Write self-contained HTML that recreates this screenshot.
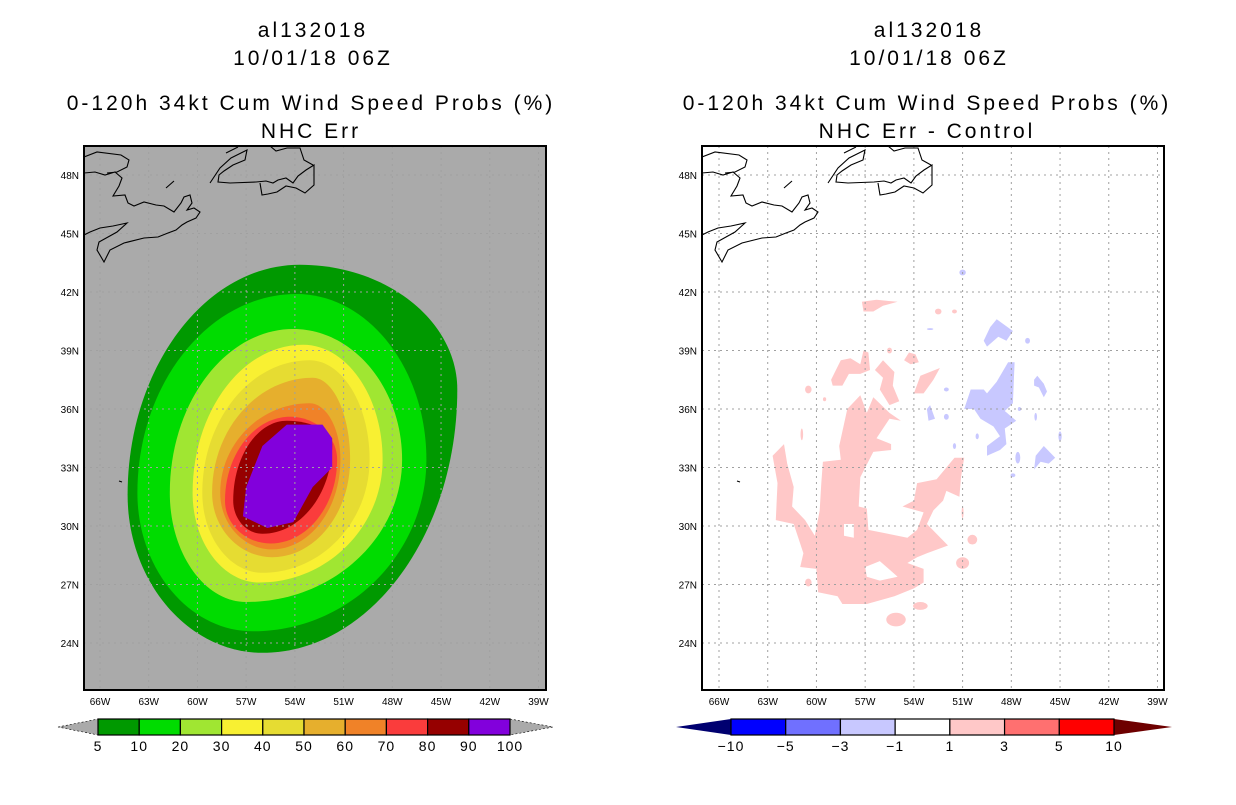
<!DOCTYPE html>
<html><head><meta charset="utf-8"><style>
html,body{margin:0;padding:0;background:#fff;}
svg text{font-family:"Liberation Sans",sans-serif;}
</style></head><body>
<svg id="root" width="1236" height="800" viewBox="0 0 1236 800" xmlns="http://www.w3.org/2000/svg">
<rect width="1236" height="800" fill="#fff"/>
<g font-size="21" text-anchor="middle" fill="#000" letter-spacing="3">
<text x="313" y="37">al132018</text>
<text x="313" y="65">10/01/18 06Z</text>
<text x="311" y="110">0-120h 34kt Cum Wind Speed Probs (%)</text>
<text x="311" y="138">NHC Err</text>
</g>
<g font-size="21" text-anchor="middle" fill="#000" letter-spacing="3">
<text x="929" y="37">al132018</text>
<text x="929" y="65">10/01/18 06Z</text>
<text x="927" y="110">0-120h 34kt Cum Wind Speed Probs (%)</text>
<text x="927" y="138">NHC Err - Control</text>
</g>
<g id="left"></g>
<g id="right"></g>
<g id="cbars"></g>
</svg>
<script>
// ---- data ----
const latTicks = [48,45,42,39,36,33,30,27,24];
const lonTicks = [66,63,60,57,54,51,48,45,42,39];
// probability contours (left): extreme points of each filled level
const probLevels = [5,10,20,30,40,50,60,70,80];
const probColors = ["#009900","#00dc00","#a0e632","#f8f032","#e6dc32","#e6af2d","#f08228","#fa3c3c","#960000"];
const northLon = [53.7,53.9,54.1,53.5,53.1,52.9,53.1,54.3,54.5];
const northLat = [43.4,41.9,40.1,39.3,38.5,37.6,36.3,35.6,35.4];
const eastLon  = [44.0,45.9,47.4,48.6,49.4,50.6,51.2,51.4,51.7];
const eastLat  = [37.0,33.4,33.4,33.4,33.4,33.4,33.4,33.4,34.2];
const southLon = [56.0,56.6,57.0,56.2,56.0,55.4,55.4,55.5,56.0];
const southLat = [23.5,24.6,26.1,27.1,27.6,28.4,28.8,29.1,29.6];
const westLon  = [64.3,63.7,61.7,60.3,59.7,59.1,58.6,58.3,57.8];
const westLat  = [31.6,31.7,31.7,31.7,31.7,31.7,31.7,31.3,31.3];
const core90 = [[54.5,35.2],[52.3,35.2],[51.7,34.5],[51.7,33.0],[52.9,32.0],[54.1,30.2],[55.7,29.9],[57.2,30.5],[57.0,32.0],[56.0,34.1]];
// difference field (right)
const pinkPolys = [
 [[62.0,34.2],[61.8,33.2],[61.4,32.0],[61.5,31.0],[60.7,30.3],[60.1,29.5],[59.8,30.8],[59.7,32.2],[59.6,33.3],[58.5,33.4],[58.6,34.1],[58.1,36.0],[57.3,36.7],[56.9,35.8],[56.5,36.6],[55.5,35.8],[54.8,35.4],[55.5,35.5],[56.3,34.5],[55.4,34.2],[55.4,33.9],[56.5,33.8],[57.3,32.5],[57.4,31.0],[56.9,30.9],[56.8,29.8],[55.6,29.6],[54.4,29.4],[53.8,29.8],[53.4,30.7],[54.7,31.0],[54.0,31.3],[53.8,32.2],[52.6,32.4],[51.5,33.5],[50.9,33.5],[51.1,32.5],[51.2,31.5],[52.0,31.8],[52.2,31.3],[52.8,30.8],[53.2,30.1],[51.9,29.0],[53.2,28.6],[53.8,28.4],[54.4,28.1],[53.4,27.8],[53.4,27.1],[54.0,26.8],[55.2,26.4],[56.9,26.0],[58.4,26.0],[58.7,26.4],[59.9,26.6],[60.0,27.8],[61.0,27.9],[60.8,28.6],[61.4,30.1],[62.5,30.3],[62.4,32.2],[62.7,33.6]],
 [[59.1,37.5],[58.5,38.5],[57.9,38.6],[57.3,38.3],[57.1,39.0],[56.8,38.9],[56.7,38.0],[57.3,37.8],[58.0,37.8],[58.4,37.2],[59.0,37.2]],
 [[56.4,38.0],[55.9,38.5],[55.2,37.9],[55.3,37.2],[54.9,36.4],[55.5,36.2],[56.1,37.0],[55.9,37.6]],
 [[57.2,41.5],[56.3,41.6],[55.0,41.5],[55.9,41.3],[56.5,41.0],[57.1,41.0]],
 [[54.6,38.5],[54.3,38.9],[53.9,38.8],[53.7,38.4],[54.2,38.3]],
 [[54.0,36.8],[53.6,37.7],[52.4,38.1],[52.8,37.5],[53.4,36.8]]
];
const holePolys = [
 [[58.3,30.1],[57.7,30.1],[57.7,29.4],[58.3,29.5]],
 [[57.0,27.9],[56.1,28.2],[55.0,27.4],[56.1,27.2],[56.9,27.4]]
];
const pinkDots = [[50.4,29.3,0.3,0.25],[51.0,28.1,0.4,0.3],[53.6,25.9,0.45,0.2],[55.1,25.2,0.6,0.35],[60.5,37.0,0.2,0.2],[60.9,34.7,0.08,0.3],[60.5,27.1,0.2,0.2],[52.5,41.0,0.2,0.15],[55.5,39.0,0.15,0.15],[51.5,41.0,0.15,0.1],[59.5,36.5,0.1,0.1],[51.0,30.7,0.06,0.3]];
const bluePolys = [
 [[49.7,39.5],[49.3,40.2],[48.9,40.6],[47.9,40.0],[48.3,39.5],[48.8,39.7],[49.5,39.2]],
 [[50.9,36.0],[50.5,37.0],[49.7,37.0],[49.5,36.8],[48.9,37.4],[48.2,38.4],[47.8,38.4],[47.9,36.3],[48.4,35.9],[47.7,35.4],[48.4,35.0],[48.3,34.2],[48.7,33.9],[49.5,33.6],[49.5,34.1],[48.7,34.6],[49.1,35.1],[49.9,35.5],[50.3,36.0]],
 [[46.6,37.5],[46.4,37.7],[46.0,37.3],[45.8,36.9],[46.0,36.6],[46.3,37.1],[46.6,37.2]],
 [[46.6,32.9],[46.5,33.6],[46.0,34.1],[45.3,33.5],[45.7,33.2],[46.2,33.3]],
 [[53.2,36.0],[53.0,36.2],[52.7,35.5],[53.1,35.4]]
];
const blueDots = [[47.6,33.5,0.15,0.3],[50.1,34.6,0.1,0.15],[47.0,39.5,0.15,0.15],[45.0,34.6,0.1,0.25],[52.0,35.6,0.15,0.15],[51.5,34.1,0.1,0.15],[52.0,37.0,0.15,0.1],[53.0,40.1,0.2,0.05],[47.9,32.6,0.15,0.1],[46.5,35.6,0.08,0.2],[47.5,36.0,0.1,0.1],[51.0,43.0,0.2,0.15]];
const probBarLabels = ["5","10","20","30","40","50","60","70","80","90","100"];
const probBarColors = ["#009900","#00dc00","#a0e632","#f8f032","#e6dc32","#e6af2d","#f08228","#fa3c3c","#960000","#8200dc"];
const diffBarLabels = ["-10","-5","-3","-1","1","3","5","10"];
const diffBarColors = ["#0000ff","#7070ff","#c8c8ff","#ffffff","#ffc8c8","#ff7070","#ff0000"];

// coastline (pixel offsets from the panel frame's top-left; decorative)
const coast = [
 "M0 27 L11 26 L21 29 L31 26 L38 32 L35 40 L29 50 L41 49 L44 57 L50 60 L60 56 L72 59 L80 60 L90 66 L97 57 L100 51 L106 49 L108 57 L103 64 L110 62 L116 66 L112 72 L103 76 L98 79 L92 84 L84 87 L74 91 L60 92 L40 97 L26 104 L20 116 L13 104 L15 96 L33 86 L43 77 L29 80 L16 82 L6 86 L0 89",
 "M0 11 L13 6 L37 9 L45 14 L43 21 L33 26 L23 27",
 "M82 42 L90 35",
 "M126 37 L136 22 L147 12 L163 4 L161 14 L149 19 L140 25 L135 29 L134 36 L146 37 L172 36 L182 35 L189 37 L194 34 L202 32 L209 37 L214 30 L222 24 L230 19 L230 39 L221 47 L212 42 L202 40 L193 46 L184 48 L178 49 L176 37",
 "M186 0 L192 5 L203 2 L216 2 L220 14 L229 19",
 "M142 7 L154 1",
 "M35 335 L38 336"
];

const NS="http://www.w3.org/2000/svg";
function mk(tag, attrs, parent){const e=document.createElementNS(NS,tag);for(const k in attrs)e.setAttribute(k,attrs[k]);parent.appendChild(e);return e;}

const FY=146, FW=462, FH=544;
function makeProj(x0){return {x:lon=>x0+(66-lon)*16.24, y:lat=>175+(48-lat)*19.5};}
function polyPath(P, pts){return "M"+pts.map(p=>P.x(p[0]).toFixed(1)+" "+P.y(p[1]).toFixed(1)).join(" L")+" Z";}

function drawFrame(g, fx, P, bg, side){
  const clipId="clip-"+side;
  const cp=mk("clipPath",{id:clipId},g);
  mk("rect",{x:fx,y:FY,width:FW,height:FH},cp);
  const bgr=mk("rect",{x:fx,y:FY,width:FW,height:FH,fill:bg},g);
  
  
  const inner=mk("g",{"clip-path":"url(#"+clipId+")"},g);
  return inner;
}
function drawGridAndAxes(g, inner, fx, P, side){
  const grid=mk("g",{stroke:"#a0a0a0","stroke-width":1,"stroke-dasharray":"2,4"},inner);
  
  
  latTicks.forEach(v=>{mk("line",{x1:fx,x2:fx+FW,y1:P.y(v),y2:P.y(v)},grid);});
  lonTicks.forEach(v=>{mk("line",{x1:P.x(v),x2:P.x(v),y1:FY,y2:FY+FH},grid);});
  const c=mk("path",{d:coast.join(" "),fill:"none",stroke:"#000","stroke-width":1.1,transform:"translate("+fx+","+FY+")"},inner);
  
  
  const fr=mk("rect",{x:fx,y:FY,width:FW,height:FH,fill:"none",stroke:"#000","stroke-width":2},g);
  
  
  latTicks.forEach(v=>{
    const t=mk("text",{x:fx-5,y:P.y(v)+4,"font-size":10,"text-anchor":"end"},g);
    t.textContent=v+"N";
    
    
  });
  lonTicks.forEach(v=>{
    const t=mk("text",{x:P.x(v),y:705,"font-size":10,"text-anchor":"middle"},g);
    t.textContent=v+"W";
    
    
  });
}
function eggPath(P,i){
  const T=[P.x(northLon[i]),P.y(northLat[i])], R=[P.x(eastLon[i]),P.y(eastLat[i])],
        B=[P.x(southLon[i]),P.y(southLat[i])], L=[P.x(westLon[i]),P.y(westLat[i])], k=0.55;
  const f=n=>n.toFixed(1);
  return "M"+f(T[0])+" "+f(T[1])+
   " C"+f(T[0]+k*(R[0]-T[0]))+" "+f(T[1])+" "+f(R[0])+" "+f(R[1]-k*(R[1]-T[1]))+" "+f(R[0])+" "+f(R[1])+
   " C"+f(R[0])+" "+f(R[1]+k*(B[1]-R[1]))+" "+f(B[0]+k*(R[0]-B[0]))+" "+f(B[1])+" "+f(B[0])+" "+f(B[1])+
   " C"+f(B[0]-k*(B[0]-L[0]))+" "+f(B[1])+" "+f(L[0])+" "+f(L[1]+k*(B[1]-L[1]))+" "+f(L[0])+" "+f(L[1])+
   " C"+f(L[0])+" "+f(L[1]-k*(L[1]-T[1]))+" "+f(T[0]-k*(T[0]-L[0]))+" "+f(T[1])+" "+f(T[0])+" "+f(T[1])+" Z";
}
function ellipse(parent,P,d,fill){
  return mk("ellipse",{cx:P.x(d[0]),cy:P.y(d[1]),rx:d[2]*16.24,ry:d[3]*19.5,fill:fill},parent);
}

// left panel
(function(){
  const g=document.getElementById("left"), fx=84, P=makeProj(100);
  const inner=drawFrame(g,fx,P,"#aaaaaa","left");
  const cg=mk("g",{},inner);
  
  
  probLevels.forEach((lv,i)=>{
    const p=mk("path",{d:eggPath(P,i),fill:probColors[i]},cg);
    
    
  });
  const core=mk("path",{d:polyPath(P,core90),fill:"#8200dc"},cg);
  
  
  drawGridAndAxes(g,inner,fx,P,"left");
})();

// right panel
(function(){
  const g=document.getElementById("right"), fx=702, P=makeProj(719);
  const inner=drawFrame(g,fx,P,"#ffffff","right");
  const dg=mk("g",{},inner);
  
  
  pinkPolys.forEach(pts=>{
    const p=mk("path",{d:polyPath(P,pts),fill:"#ffc8c8"},dg);
    
    
  });
  holePolys.forEach(pts=>{
    const p=mk("path",{d:polyPath(P,pts),fill:"#ffffff"},dg);
    
    
  });
  pinkDots.forEach(d=>{
    const e=ellipse(dg,P,d,"#ffc8c8");
    
    
  });
  bluePolys.forEach(pts=>{
    const p=mk("path",{d:polyPath(P,pts),fill:"#c8c8ff"},dg);
    
    
  });
  blueDots.forEach(d=>{
    const e=ellipse(dg,P,d,"#c8c8ff");
    
    
  });
  drawGridAndAxes(g,inner,fx,P,"right");
})();

// colorbars
(function(){
  const g=document.getElementById("cbars"), y0=719, h=16, ym=727;
  const lb=mk("g",{},g);
  
  
  const x0=98, x1=510, w=(x1-x0)/probBarColors.length;
  const t1=mk("polygon",{points:"58,"+ym+" "+x0+","+y0+" "+x0+","+(y0+h),fill:"#aaaaaa",stroke:"#000","stroke-width":0.6,"stroke-dasharray":"2,2"},lb);
  
  
  const t2=mk("polygon",{points:x1+","+y0+" 553,"+ym+" "+x1+","+(y0+h),fill:"#aaaaaa",stroke:"#000","stroke-width":0.6,"stroke-dasharray":"2,2"},lb);
  
  
  probBarColors.forEach((c,i)=>{
    const r=mk("rect",{x:x0+i*w,y:y0,width:w,height:h,fill:c,stroke:"#000","stroke-width":1.2},lb);
    
    
  });
  probBarLabels.forEach((s,i)=>{
    const t=mk("text",{x:x0+i*w,y:751,"font-size":14,"text-anchor":"middle","letter-spacing":1},lb);
    t.textContent=s;
    
    
  });
  const rb=mk("g",{},g);
  
  
  const a0=731, a1=1114, aw=(a1-a0)/diffBarColors.length;
  const u1=mk("polygon",{points:"676,"+ym+" "+a0+","+y0+" "+a0+","+(y0+h),fill:"#000070"},rb);
  
  
  const u2=mk("polygon",{points:a1+","+y0+" 1172,"+ym+" "+a1+","+(y0+h),fill:"#6e0000"},rb);
  
  
  diffBarColors.forEach((c,i)=>{
    const r=mk("rect",{x:a0+i*aw,y:y0,width:aw,height:h,fill:c,stroke:"#000","stroke-width":1.2},rb);
    
    
  });
  diffBarLabels.forEach((s,i)=>{
    const t=mk("text",{x:a0+i*aw,y:751,"font-size":14,"text-anchor":"middle","letter-spacing":1},rb);
    t.textContent=s.replace("-","\u2212");
    
    
  });
})();
</script>
</body></html>
